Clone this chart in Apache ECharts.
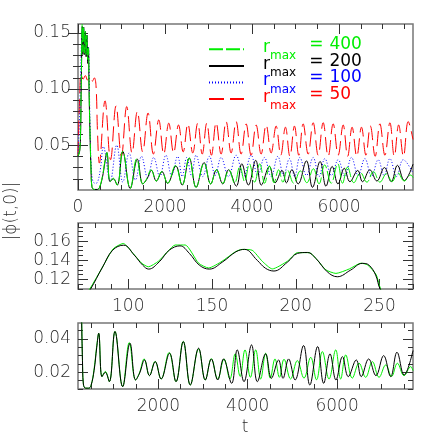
<!DOCTYPE html>
<html><head><meta charset="utf-8">
<script src="https://cdn.jsdelivr.net/npm/echarts@6/dist/echarts.min.js"></script>
<style>html,body{margin:0;padding:0;background:#fff}#c{width:436px;height:436px}</style>
</head><body><div id="c"></div>
<script>
// ---------- data ----------
// r_max = 200 (black, solid) : time and |phi(t,0)|
const tBlack = [0,40,60,70,77.2,84.7,90.7,97.3,103.6,108.6,112.2,118.5,124.5,130.9,136.5,142.4,148.4,156.4,164.3,169.5,177,182,187,195,201,207,212,218.8,224.8,232.8,239.7,243.7,247.7,250.7,262,280,300,320,370,440,491,560,620,663,737,811,901,1028,1200,1364,1490,1580,1690,1800,1930,2060,2250,2394,2558,2714,2900,3050,3185,3328,3458,3640,3765,3917,4085,4215,4400,4530,4690,4790,4915,5060,5250,5390,5565,5700,5842,5975,6120,6250,6430,6540,6708,6870,7043,7200,7342,7500,7700];
const vBlack = [0.040,0.045,0.062,0.090,0.109,0.133,0.1506,0.1558,0.1454,0.135,0.1308,0.1384,0.1506,0.1551,0.1472,0.135,0.1308,0.1384,0.1489,0.1514,0.140,0.1316,0.1288,0.138,0.1472,0.1482,0.142,0.128,0.1228,0.1298,0.1368,0.135,0.1246,0.109,0.083,0.053,0.027,0.013,0.0105,0.0105,0.012,0.021,0.035,0.0434,0.0174,0.0200,0.0144,0.0444,0.0114,0.0374,0.0154,0.0195,0.0274,0.018,0.0264,0.016,0.0314,0.0144,0.0384,0.0124,0.0344,0.0154,0.0280,0.0154,0.0280,0.0134,0.0334,0.0144,0.0364,0.0144,0.031,0.0164,0.0274,0.0164,0.028,0.0154,0.036,0.0124,0.0354,0.0134,0.031,0.0154,0.0294,0.0174,0.0274,0.0174,0.028,0.018,0.030,0.0174,0.032,0.0184,0.033];

// r_max = 400 (green, dashed)
const tGreen = [0,40,60,70,77,85,91,97,103,108,112,118,124,128,134,142,148,156,164,168,174,180,186,195,201,208,213,218,224,232,239,243,248,251,262,280,300,320,370,440,491,560,620,663,737,811,901,1028,1200,1349,1490,1580,1680,1800,1925,2060,2240,2394,2555,2714,2900,3050,3185,3328,3470,3600,3720,3830,3939,4060,4178,4290,4402,4505,4610,4710,4812,4960,5110,5260,5410,5540,5670,5820,5970,6080,6194,6340,6492,6640,6790,6940,7090,7220,7350,7500,7650,7700];
const vGreen = [0.040,0.046,0.064,0.094,0.110,0.134,0.152,0.1576,0.147,0.137,0.1332,0.139,0.150,0.156,0.156,0.137,0.132,0.139,0.149,0.1514,0.1505,0.139,0.131,0.139,0.148,0.148,0.140,0.130,0.1263,0.131,0.137,0.135,0.125,0.109,0.085,0.055,0.028,0.013,0.0105,0.0105,0.012,0.022,0.036,0.0434,0.0174,0.0205,0.0144,0.0445,0.0114,0.0378,0.0154,0.020,0.028,0.018,0.0265,0.016,0.0318,0.0144,0.0385,0.0124,0.0340,0.0154,0.0282,0.0160,0.028,0.016,0.031,0.0175,0.0334,0.017,0.0334,0.016,0.0314,0.0165,0.028,0.017,0.0278,0.016,0.027,0.0165,0.029,0.0155,0.0324,0.016,0.0334,0.016,0.0304,0.0165,0.0254,0.017,0.0264,0.017,0.0244,0.0175,0.0254,0.018,0.0234,0.021];

// r_max = 100 (blue, dotted)
const tBlue = [0,40,70,97,112,131,148,170,187,207,225,241,255,275,300,340,400,450,520,583,740,890,1030,1175,1320,1460,1600,1740,1880,2020,2150,2290,2395,2500,2607,2714,2867,3020,3155,3289,3460,3634,3806,3979,4132,4285,4439,4593,4726,4860,4980,5099,5252,5405,5540,5674,5827,5980,6133,6286,6440,6594,6747,6900,7035,7169,7322,7475,7700];
const vBlue = [0.040,0.080,0.130,0.152,0.133,0.155,0.132,0.150,0.130,0.147,0.125,0.138,0.120,0.070,0.035,0.018,0.016,0.017,0.030,0.0487,0.018,0.050,0.017,0.043,0.019,0.040,0.021,0.039,0.022,0.041,0.023,0.040,0.022,0.039,0.023,0.041,0.022,0.040,0.023,0.039,0.022,0.041,0.022,0.041,0.023,0.039,0.022,0.040,0.023,0.038,0.022,0.039,0.023,0.039,0.022,0.038,0.023,0.037,0.022,0.039,0.023,0.038,0.022,0.037,0.023,0.038,0.022,0.037,0.025];

// r_max = 50 (red, dashed)
const tRed = [0,40,69,120,170,220,280,330,375,414,450,490,621,748,874,997,1120,1242,1364,1487,1610,1733,1856,1971,2086,2198,2310,2418,2525,2638,2752,2856,2960,3067,3174,3289,3404,3519,3634,3749,3864,3979,4094,4209,4324,4439,4554,4661,4768,4871,4975,5075,5175,5290,5405,5520,5635,5750,5865,5980,6095,6198,6300,6408,6516,6618,6720,6830,6939,7054,7169,7270,7370,7480,7590,7700];
const vRed = [0.040,0.095,0.113,0.109,0.112,0.108,0.111,0.107,0.110,0.103,0.060,0.034,0.0895,0.037,0.085,0.040,0.0844,0.043,0.080,0.044,0.0786,0.042,0.0725,0.042,0.0696,0.043,0.068,0.044,0.069,0.043,0.0696,0.042,0.0696,0.041,0.070,0.042,0.071,0.043,0.071,0.042,0.069,0.041,0.068,0.042,0.068,0.043,0.067,0.041,0.066,0.040,0.067,0.041,0.069,0.042,0.070,0.041,0.070,0.040,0.069,0.041,0.068,0.040,0.066,0.040,0.066,0.041,0.067,0.040,0.069,0.041,0.070,0.040,0.068,0.040,0.071,0.055];

// legend entries (r_max values)
const legendNames = ['400','200','100','50'];

// tick labels
const topXTicks = [0,2000,4000,6000];
const topYTicks = [0.05,0.10,0.15];
const midXTicks = [100,150,200,250];
const midYTicks = [0.12,0.14,0.16];
const botXTicks = [2000,4000,6000];
const botYTicks = [0.02,0.04];

// ---------- chart ----------
const FONT = 'DejaVu Sans';
const TXT = '#2a2a2a';
const zip = (t, v) => t.map((x, i) => [x, v[i]]);
function steps(a, b, s) { const r = []; for (let k = 0; a + k * s <= b + 1e-9; k++) r.push(+(a + k * s).toFixed(6)); return r; }

const xAxes = [], yAxes = [];
function addAxes(list, g, isX, min, max, majors, minors, fmt, margin) {
  const base = (pos, ticks, len, label) => ({
    type: 'value', gridIndex: g, position: pos, min: min, max: max,
    axisLine: { show: false }, splitLine: { show: false },
    axisTick: { show: true, inside: true, length: len, customValues: ticks, lineStyle: { color: '#333', width: 1 } },
    axisLabel: label ? { show: true, customValues: majors, formatter: fmt, margin: margin,
      fontFamily: FONT, fontSize: 17, fontWeight: 200, color: TXT } : { show: false }
  });
  const p1 = isX ? 'bottom' : 'left', p2 = isX ? 'top' : 'right';
  list.push(base(p1, majors, 10, true), base(p1, minors, 5, false), base(p2, majors, 10, false), base(p2, minors, 5, false));
}
const f0 = v => String(Math.round(v));
const f2 = v => v.toFixed(2);
addAxes(xAxes, 0, true, 0, 7700, topXTicks, steps(0, 7500, 500), f0, 9);
addAxes(yAxes, 0, false, 0.01, 0.158, topYTicks, steps(0.02, 0.15, 0.01), f2, 7);
addAxes(xAxes, 1, true, 70, 270, midXTicks, steps(70, 270, 10), f0, 9);
addAxes(yAxes, 1, false, 0.11, 0.179, midYTicks, steps(0.11, 0.175, 0.005), f2, 7);
addAxes(xAxes, 2, true, 200, 7700, botXTicks, steps(500, 7500, 500), f0, 9);
addAxes(yAxes, 2, false, 0.01, 0.0495, botYTicks, steps(0.01, 0.045, 0.005), f2, 7);

const grid = [
  { left: 78, right: 23, top: 24, height: 166 },
  { left: 78, right: 23, top: 223, height: 66 },
  { left: 78, right: 23, top: 323, height: 66 }
].map(g => Object.assign(g, { show: true, borderColor: '#777', borderWidth: 1.5, containLabel: false }));

const GREEN = '#00ee00', BLACK = '#000000', BLUE = '#0000ff', RED = '#ff0000';
function line(name, g, data, color, type, smooth) {
  return { name: name, type: 'line', xAxisIndex: 4 * g, yAxisIndex: 4 * g, data: data,
    showSymbol: false, symbol: 'none', smooth: smooth, animation: false,
    lineStyle: { color: color, width: 1, type: type }, itemStyle: { color: color } };
}
const series = [
  line('50', 0, zip(tRed, vRed), RED, [15, 6], 0.4),
  line('100', 0, zip(tBlue, vBlue), BLUE, [1, 2], 0.4),
  line('200', 0, zip(tBlack, vBlack), BLACK, 'solid', 0.4),
  line('400', 0, zip(tGreen, vGreen), GREEN, [14, 3], 0.4),
  line('m400', 1, zip(tGreen, vGreen), GREEN, 'solid', 0.2),
  line('m200', 1, zip(tBlack, vBlack), BLACK, 'solid', 0.4),
  line('b400', 2, zip(tGreen, vGreen), GREEN, 'solid', 0.4),
  line('b200', 2, zip(tBlack, vBlack), BLACK, 'solid', 0.4)
];
const legendColors = [GREEN, BLACK, BLUE, RED];

// one legend block per row, so each row sits exactly where the reference puts it
const legends = legendNames.map((n, i) => ({
  orient: 'vertical', left: 208, top: 36.3 + 16.6 * i, padding: 0, itemWidth: 35, itemHeight: 14,
  selectedMode: false,
  itemStyle: { opacity: 0 },
  data: [{ name: n, textStyle: { color: legendColors[i] } }],
  formatter: nm => '{r|r}{s|max}{e|=}{v|' + nm + '}',
  textStyle: {
    fontFamily: FONT,
    rich: {
      r: { fontFamily: FONT, fontSize: 17, lineHeight: 26, verticalAlign: 'top', padding: [3, 0, 0, 14] },
      s: { fontFamily: FONT, fontSize: 12, lineHeight: 26, verticalAlign: 'top', padding: [14, 0, 0, 0] },
      e: { fontFamily: FONT, fontSize: 17, lineHeight: 26, verticalAlign: 'top', padding: [0, 0, 0, 13] },
      v: { fontFamily: FONT, fontSize: 17, lineHeight: 26, verticalAlign: 'top', padding: [0, 0, 0, 6] }
    }
  }
}));

const chart = echarts.init(document.getElementById('c'), null, { renderer: 'canvas' });
chart.setOption({
  animation: false,
  backgroundColor: '#fff',
  grid: grid, xAxis: xAxes, yAxis: yAxes, series: series,
  legend: legends,
  graphic: [
    { type: 'text', x: 12, y: 211, rotation: Math.PI / 2,
      style: { text: '|\u03D5(t,0)|', fontFamily: FONT, fontSize: 17, fontWeight: 200, fill: TXT, align: 'center', verticalAlign: 'middle' } },
    { type: 'text', x: 245, y: 428,
      style: { text: 't', fontFamily: FONT, fontSize: 17, fontWeight: 200, fill: TXT, align: 'center', verticalAlign: 'middle' } }
  ]
});
</script></body></html>
